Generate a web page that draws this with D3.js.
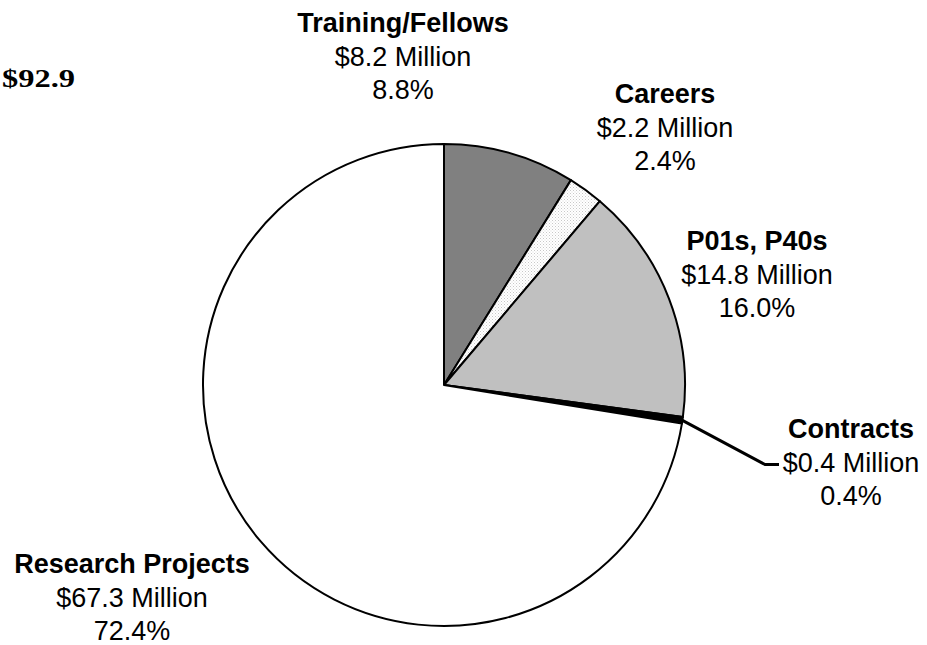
<!DOCTYPE html>
<html lang="en">
  <head>
    <meta charset="UTF-8" />
    <title>Funding by Mechanism</title>
    <style>
      body {
        margin: 0;
        background-color: white;
      }
      .lbl {
        font-family: Arial, "Liberation Sans", sans-serif;
        font-size: 27px;
        fill: black;
      }
      .lbl .name {
        font-weight: bold;
      }
      .total {
        font-family: "Times New Roman", "Liberation Serif", serif;
        font-weight: bold;
        font-size: 25px;
      }
    </style>
  </head>
  <body>
    <script src="https://d3js.org/d3.v7.min.js"></script>
    <svg id="chart" width="927" height="645"></svg>
    <script>
      // data, clockwise from 12 o'clock
      var categories = ["Training/Fellows", "Careers", "P01s, P40s", "Contracts", "Research Projects"];
      var amounts = [8.2, 2.2, 14.8, 0.4, 67.3]; // $ million
      var percents = ["8.8%", "2.4%", "16.0%", "0.4%", "72.4%"];
      var totalLabel = "$92.9";

      var svg = d3.select("#chart"),
        width = +svg.attr("width"),
        height = +svg.attr("height");

      var cx = 444,
        cy = 385,
        radius = 241;

      // dotted fill for the Careers slice
      var defs = svg.append("defs");
      var pat = defs
        .append("pattern")
        .attr("id", "dots")
        .attr("width", 3)
        .attr("height", 3)
        .attr("patternUnits", "userSpaceOnUse");
      pat.append("rect").attr("width", 3).attr("height", 3).attr("fill", "white");
      pat.append("rect").attr("x", 0).attr("y", 0).attr("width", 1).attr("height", 1).attr("fill", "#c8c8c8");
      pat.append("rect").attr("x", 1.5).attr("y", 1.5).attr("width", 1).attr("height", 1).attr("fill", "#d8d8d8");

      var fills = ["#808080", "url(#dots)", "#c0c0c0", "#000000", "#ffffff"];

      var pie = d3.pie().sort(null).value(function (d) {
        return d.value;
      });
      var arc = d3.arc().innerRadius(0).outerRadius(radius);

      var data = categories.map(function (c, i) {
        return { name: c, value: amounts[i], pct: percents[i] };
      });
      var arcs = pie(data);

      var g = svg.append("g").attr("transform", "translate(" + cx + "," + cy + ")");

      g.selectAll("path")
        .data(arcs)
        .enter()
        .append("path")
        .attr("d", arc)
        .attr("fill", function (d, i) {
          return fills[i];
        })
        .attr("stroke", "black")
        .attr("stroke-width", 2)
        .attr("stroke-linejoin", "round");

      // label blocks (center x, first baseline) - placed by hand like the original
      var labelPos = [
        [403, 32],
        [665, 103],
        [757, 250],
        [851, 438],
        [132, 573]
      ];
      var lineGap = 33.5;

      var labels = svg
        .selectAll(".lbl")
        .data(arcs)
        .enter()
        .append("text")
        .attr("class", "lbl")
        .attr("text-anchor", "middle");

      labels
        .append("tspan")
        .attr("class", "name")
        .attr("x", function (d, i) {
          return labelPos[i][0];
        })
        .attr("y", function (d, i) {
          return labelPos[i][1];
        })
        .text(function (d) {
          return d.data.name;
        });
      labels
        .append("tspan")
        .attr("x", function (d, i) {
          return labelPos[i][0];
        })
        .attr("y", function (d, i) {
          return labelPos[i][1] + lineGap;
        })
        .text(function (d) {
          return "$" + d3.format(".1f")(d.data.value) + " Million";
        });
      labels
        .append("tspan")
        .attr("x", function (d, i) {
          return labelPos[i][0];
        })
        .attr("y", function (d, i) {
          return labelPos[i][1] + 2 * lineGap;
        })
        .text(function (d) {
          return d.data.pct;
        });

      // leader line for the tiny Contracts slice
      var c = arcs[3];
      var mid = (c.startAngle + c.endAngle) / 2;
      var p0 = [cx + radius * Math.sin(mid), cy - radius * Math.cos(mid)];
      var yMid = labelPos[3][1] + lineGap - 7;
      svg
        .append("polyline")
        .attr("points", [p0, [765, yMid], [779, yMid]].map(function (p) { return p.join(","); }).join(" "))
        .attr("fill", "none")
        .attr("stroke", "black")
        .attr("stroke-width", 3);

      // total in the top-left corner
      svg
        .append("text")
        .attr("class", "total")
        .attr("transform", "translate(2,87) scale(1.3,1)")
        .text(totalLabel);
    </script>
  </body>
</html>
